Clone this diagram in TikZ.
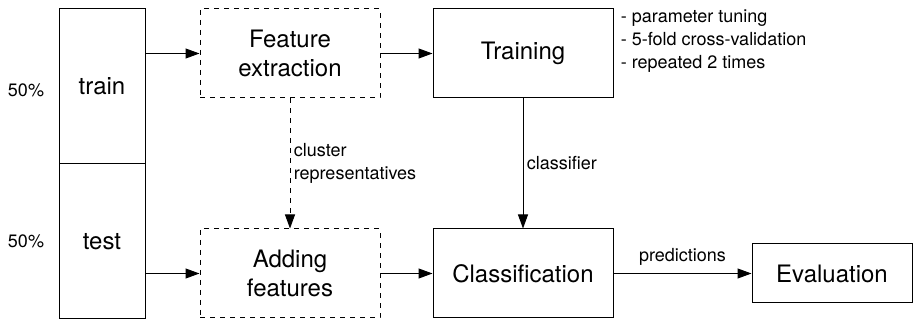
\documentclass[tikz,border=0pt]{standalone}
\usepackage{fontspec}
\setmainfont{TeX Gyre Heros}
\usetikzlibrary{arrows.meta}

\begin{document}
\begin{tikzpicture}[x=1pt,y=-1pt,line width=1pt,
	box/.style={draw,minimum width=180pt,minimum height=89pt,inner sep=0pt,align=center,font=\fontsize{24}{29}\selectfont},
	dbox/.style={box,dash pattern=on 5pt off 5pt},
	lbl/.style={font=\fontsize{18}{23}\selectfont},
	arr/.style={-{Triangle[length=14pt,width=10pt]}}]
		\useasboundingbox (0,0) rectangle (913,320);
		\node[box,minimum width=86pt,minimum height=155pt] (train) at (102,86.5) {train};
		\node[box,minimum width=86pt,minimum height=155pt] (test) at (102,241.5) {test};
		\node[lbl] (ptrain) at (26,90) {50\%};
		\node[lbl] (ptest) at (26,241) {50\%};

		\node[dbox] (fe) at (290,53.5) {Feature\\extraction};
		\node[dbox] (af) at (290,273.5) {Adding\\features};
		\node[box] (training) at (523,53.5) {Training};
		\node[box] (classif) at (523,273.5) {Classification};
		\node[box,minimum width=160pt,minimum height=59pt] (eval) at (832,273.5) {Evaluation};
		\node[lbl,align=left,anchor=north west] (notes) at (617,6) {- parameter tuning\\- 5-fold cross-validation\\- repeated 2 times};

		\draw[arr] (train.east |- fe.west) -- (fe.west);
		\draw[arr] (test.east |- af.west) -- (af.west);
		\draw[arr] (fe) -- (training);
		\draw[arr] (af) -- (classif);
		\draw[arr,dash pattern=on 5pt off 5pt] (fe) -- (af) node[midway,right,lbl,align=left]{cluster\\representatives};
		\draw[arr] (training) -- (classif) node[midway,right,lbl]{classifier};
		\draw[arr] (classif) -- (eval) node[midway,above,lbl,yshift=4pt]{predictions};
	\end{tikzpicture}
\end{document}
